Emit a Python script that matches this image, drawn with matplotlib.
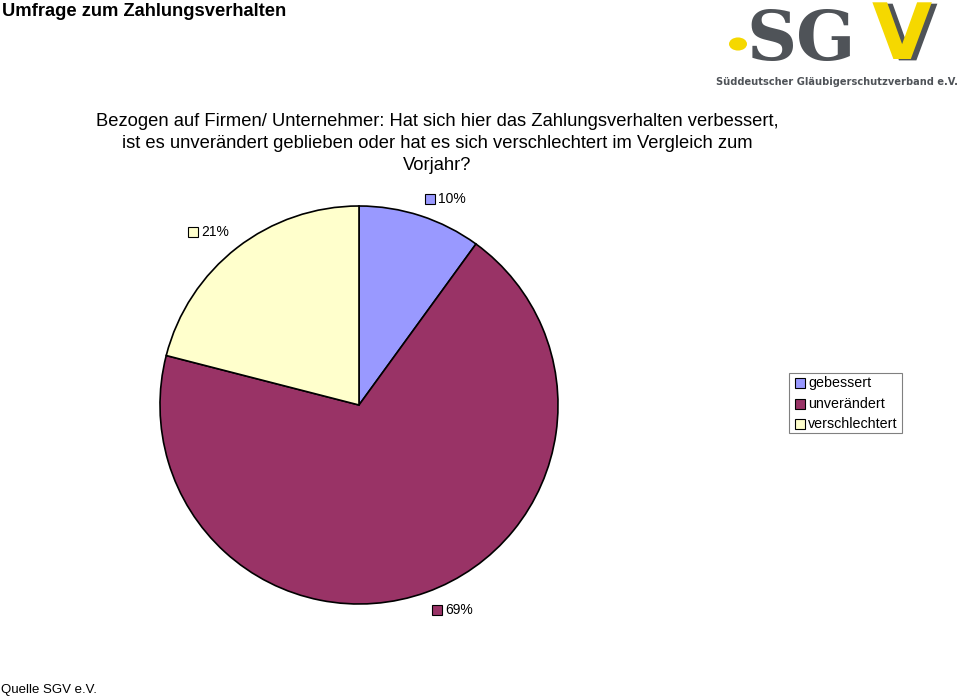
import matplotlib
matplotlib.use("Agg")
import matplotlib.pyplot as plt
import matplotlib.patheffects as pe
from matplotlib.patches import Rectangle, Circle

categories = ["gebessert", "unverändert", "verschlechtert"]
values = [10, 69, 21]
labels = ["10%", "69%", "21%"]
colors = ["#9999FF", "#993366", "#FFFFCC"]

W, H = 960, 699
fig = plt.figure(figsize=(9.6, 6.99), dpi=100)
plt.rcParams['font.family'] = ['Liberation Sans', 'DejaVu Sans']

def px(x, y):
    return x / W, 1 - y / H

# Pie
cx, cy, r = 359, 405, 199
ax = fig.add_axes([(cx - r) / W, (H - cy - r) / H, 2 * r / W, 2 * r / H])
wedges, _ = ax.pie(values, colors=colors, startangle=90, counterclock=False,
                   radius=1, wedgeprops=dict(edgecolor="black", linewidth=1.2))
ax.set_xlim(-1, 1)
ax.set_ylim(-1, 1)
ax.set_aspect("equal")
ax.axis("off")

# Data labels
label_pos = [(425, 199), (432, 610), (188, 232)]
for (x, y), lab, col in zip(label_pos, labels, colors):
    fig.patches.append(Rectangle(px(x, y + 5), 10 / W, 10 / H, transform=fig.transFigure,
                                 facecolor=col, edgecolor="black", linewidth=0.8))
    fig.text(*px(x + 13, y), lab, fontsize=10, va="center", ha="left")

# Titles
fig.text(*px(2, 12), "Umfrage zum Zahlungsverhalten", fontsize=13.2, fontweight="bold",
         va="center", ha="left")
sub = ["Bezogen auf Firmen/ Unternehmer: Hat sich hier das Zahlungsverhalten verbessert,",
       "ist es unverändert geblieben oder hat es sich verschlechtert im Vergleich zum",
       "Vorjahr?"]
for i, s in enumerate(sub):
    fig.text(*px(437, 121 + 22 * i), s, fontsize=13.2, va="center", ha="center")

fig.text(*px(1, 690), "Quelle SGV e.V.", fontsize=9.5, va="center", ha="left")

# Legend
fig.patches.append(Rectangle(px(789, 433), 113 / W, 60 / H, transform=fig.transFigure,
                             facecolor="white", edgecolor="#808080", linewidth=0.8))
for i, (c, col) in enumerate(zip(categories, colors)):
    y = 383 + 20.5 * i
    fig.patches.append(Rectangle(px(795, y + 5), 10 / W, 10 / H, transform=fig.transFigure,
                                 facecolor=col, edgecolor="black", linewidth=0.8))
    fig.text(*px(808, y), c, fontsize=10.3, va="center", ha="left")

# Logo
fig.patches.append(Circle(px(738, 44), 9 / W, transform=fig.transFigure,
                          facecolor="#F5D800", edgecolor="none"))
fig.text(*px(746, 60), "SG", fontsize=50, fontweight="bold", family="DejaVu Serif",
         color="#4F5358", va="baseline", ha="left")
fig.text(*px(872, 59), "V", fontsize=56, fontweight="bold", family="DejaVu Sans",
         color="#F5D800", va="baseline", ha="left",
         path_effects=[pe.SimplePatchShadow(offset=(4, -1), shadow_rgbFace="#4F5358",
                                            alpha=1.0), pe.Normal()])
fig.text(*px(837, 82), "Süddeutscher Gläubigerschutzverband e.V.", fontsize=7.1,
         fontweight="bold", color="#4F5358", va="center", ha="center", family="DejaVu Sans")

fig.savefig("out.png", dpi=100)
